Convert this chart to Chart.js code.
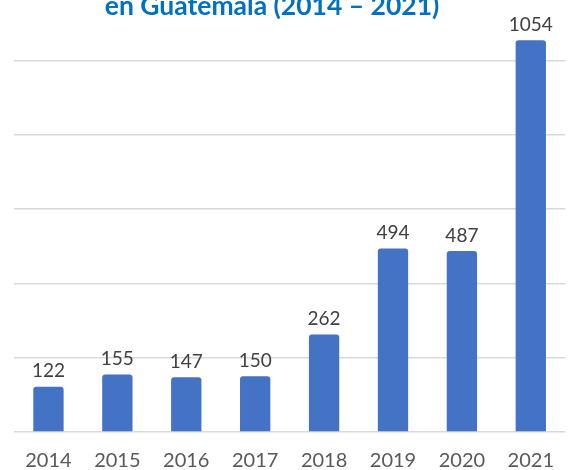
<!DOCTYPE html>
<html>
<head>
<meta charset="utf-8">
<script src="https://cdn.jsdelivr.net/npm/chart.js@4.4.0/dist/chart.umd.min.js"></script>
<style>
    html, body { margin: 0; padding: 0; background: #fff; }
    #frame { position: relative; width: 571px; height: 470px; overflow: hidden; }
    #holder { position: absolute; left: 0; top: -14px; width: 571px; height: 484px; }
</style>
</head>
<body>
<div id="frame">
    <div id="holder"><canvas id="chart"></canvas></div>
</div>
<script>
// datos
const years = ['2014', '2015', '2016', '2017', '2018', '2019', '2020', '2021'];
const cases = [122, 155, 147, 150, 262, 494, 487, 1054];
const titleText = 'en Guatemala (2014 – 2021)';

document.addEventListener('DOMContentLoaded', () => {
    const ctx = document.getElementById('chart').getContext('2d');

    // Título recortado arriba, como en la imagen original
    const titlePlugin = {
        id: 'cutTitle',
        afterDraw(chart) {
            const c = chart.ctx;
            c.save();
            c.font = 'bold 26.5px Lato';
            c.fillStyle = '#0070C0';
            c.textAlign = 'center';
            c.textBaseline = 'alphabetic';
            c.fillText(titleText, 272, 29);
            c.restore();
        }
    };

    // Etiquetas de valor encima de cada barra
    const valueLabels = {
        id: 'valueLabels',
        afterDatasetsDraw(chart) {
            const c = chart.ctx;
            const meta = chart.getDatasetMeta(0);
            c.save();
            c.font = '19px Lato';
            c.fillStyle = '#404040';
            c.textAlign = 'center';
            c.textBaseline = 'bottom';
            meta.data.forEach((bar, i) => {
                c.fillText(String(cases[i]), bar.x, bar.y - 6);
            });
            c.restore();
        }
    };

    new Chart(ctx, {
        type: 'bar',
        data: {
            labels: years,
            datasets: [{
                data: cases,
                backgroundColor: '#4472C4',
                borderRadius: 3,
                borderSkipped: 'bottom',
                barPercentage: 0.55,
                categoryPercentage: 0.8
            }]
        },
        options: {
            responsive: true,
            maintainAspectRatio: false,
            animation: false,
            layout: { padding: { left: 14, right: 0, top: 0, bottom: 0 } },
            plugins: {
                legend: { display: false },
                tooltip: { enabled: false }
            },
            scales: {
                x: {
                    grid: { display: false, drawTicks: false },
                    border: { display: false },
                    ticks: {
                        color: '#595959',
                        font: { family: 'Lato', size: 20 },
                        padding: 17
                    },
                    afterFit(scale) { scale.height = 38; }
                },
                y: {
                    min: 0,
                    max: 1200,
                    ticks: { display: false, stepSize: 200 },
                    grid: { color: '#d9d9d9', lineWidth: 1.5, drawTicks: false },
                    border: { display: false },
                    afterFit(scale) { scale.width = 0; }
                }
            }
        },
        plugins: [titlePlugin, valueLabels]
    });
});
</script>
</body>
</html>
